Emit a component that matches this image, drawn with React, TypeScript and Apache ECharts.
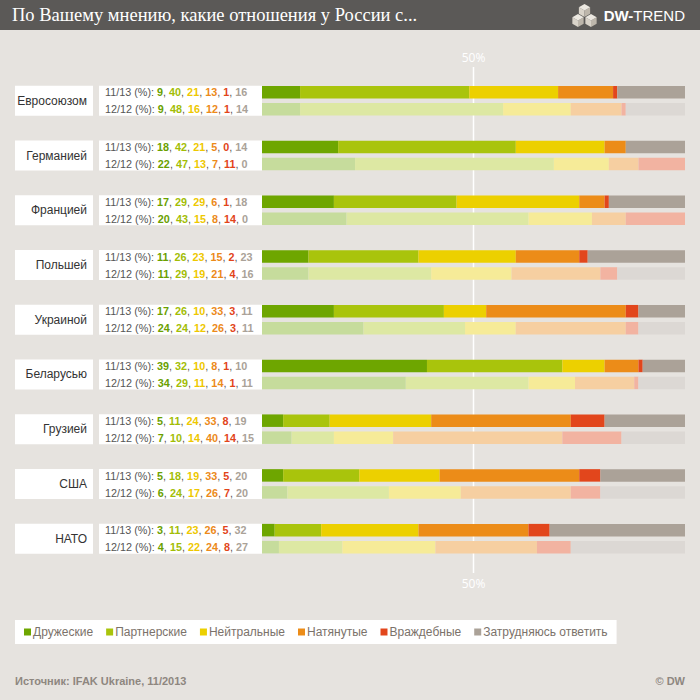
import React, { useEffect, useRef } from "react";
import * as echarts from "echarts";

const countries = ["Евросоюзом", "Германией", "Францией", "Польшей", "Украиной", "Беларусью", "Грузией", "США", "НАТО"];
const answerNames = ["Дружеские", "Партнерские", "Нейтральные", "Натянутые", "Враждебные", "Затрудняюсь ответить"];
const periods = ["11/13", "12/12"];

// Survey 11/2013
const nov13Friendly = [9, 18, 17, 11, 17, 39, 5, 5, 3];
const nov13Partner = [40, 42, 29, 26, 26, 32, 11, 18, 11];
const nov13Neutral = [21, 21, 29, 23, 10, 10, 24, 19, 23];
const nov13Tense = [13, 5, 6, 15, 33, 8, 33, 33, 26];
const nov13Hostile = [1, 0, 1, 2, 3, 1, 8, 5, 5];
const nov13Unsure = [16, 14, 18, 23, 11, 10, 19, 20, 32];

// Survey 12/2012
const dec12Friendly = [9, 22, 20, 11, 24, 34, 7, 6, 4];
const dec12Partner = [48, 47, 43, 29, 24, 29, 10, 24, 15];
const dec12Neutral = [16, 13, 15, 19, 12, 11, 14, 17, 22];
const dec12Tense = [12, 7, 8, 21, 26, 14, 40, 26, 24];
const dec12Hostile = [1, 11, 14, 4, 3, 1, 14, 7, 8];
const dec12Unsure = [14, 0, 0, 16, 11, 11, 15, 20, 27];

const surveys = [
  [nov13Friendly, nov13Partner, nov13Neutral, nov13Tense, nov13Hostile, nov13Unsure],
  [dec12Friendly, dec12Partner, dec12Neutral, dec12Tense, dec12Hostile, dec12Unsure],
];

const darkColors = ["#6ea600", "#a9c40c", "#ecd000", "#ec8c18", "#e2461c", "#aba298"];
const lightColors = ["#c6dc9c", "#dde8a3", "#f6eb98", "#f6cfa1", "#f2b3a1", "#dcd8d4"];
const textColors = ["#6aa000", "#a2bd06", "#eec800", "#ec8a1a", "#e2441a", "#aaa298"];

const BG = "#e6e3df";
const FONT = "'Liberation Sans', Arial, sans-serif";
const BAR_W = 12.5;
const BAR_GAP = 4.5;

function cube(cx: number, cy: number, s: number) {
  const w = s * 0.87;
  return [
    { type: "polygon", shape: { points: [[cx - w, cy - s / 2], [cx, cy], [cx, cy + s], [cx - w, cy + s / 2]] }, style: { fill: "#d9d3c9" } },
    { type: "polygon", shape: { points: [[cx, cy], [cx + w, cy - s / 2], [cx + w, cy + s / 2], [cx, cy + s]] }, style: { fill: "#bdb6ab" } },
    { type: "polygon", shape: { points: [[cx, cy - s], [cx + w, cy - s / 2], [cx, cy], [cx - w, cy - s / 2]] }, style: { fill: "#ece8e1" } },
  ];
}

export default function App() {
  const ref = useRef<HTMLDivElement>(null);
  useEffect(() => {
    if (!ref.current) return;
    const chart = echarts.init(ref.current, null, { renderer: "svg" });
    const series: any[] = [];
    surveys.forEach((survey, p) => {
      survey.forEach((vals, k) => {
        series.push({
          type: "bar",
          name: p === 0 ? answerNames[k] : answerNames[k] + " " + periods[p],
          stack: periods[p],
          data: vals,
          barWidth: BAR_W,
          barGap: (BAR_GAP / BAR_W) * 100 + "%",
          itemStyle: { color: p === 0 ? darkColors[k] : lightColors[k] },
          silent: true,
          z: 2,
        });
      });
    });
    chart.setOption({
      animation: false,
      backgroundColor: BG,
      grid: { left: 262, right: 15, top: 73.4, bottom: 134, containLabel: false },
      xAxis: { type: "value", min: 0, max: 100, show: false },
      yAxis: { type: "category", data: countries, inverse: true, show: false },
      legend: {
        data: answerNames.map((n, k) => ({ name: n, itemStyle: { color: darkColors[k] } })),
        icon: "rect",
        itemWidth: 7,
        itemHeight: 7,
        itemGap: 13,
        left: 15,
        top: 620,
        backgroundColor: "#fff",
        padding: [6, 9, 6, 9],
        selectedMode: false,
        textStyle: { color: "#7b726a", fontSize: 12, fontFamily: FONT, padding: [0, 0, 0, -3] },
      },
      series,
    });

    const x50 = chart.convertToPixel({ xAxisIndex: 0 }, 50) as number;
    const half = (BAR_W + BAR_GAP) / 2;
    const g: any[] = [];
    g.push({ type: "rect", shape: { x: 0, y: 0, width: 700, height: 30 }, style: { fill: "#5b5957" }, z: 10 });
    g.push({
      type: "text", x: 12, y: 15, z: 11,
      style: { text: "По Вашему мнению, какие отношения у России с...", fill: "#fff", font: "18.5px 'Liberation Serif', serif", verticalAlign: "middle" },
    });
    [...cube(578, 20.5, 6.5), ...cube(591, 20.5, 6.5), ...cube(584.5, 10.5, 6.5)].forEach((c) => g.push({ ...c, z: 11 }));
    g.push({
      type: "text", x: 685, y: 15, z: 11,
      style: {
        text: "{b|DW-}{r|TREND}", align: "right", verticalAlign: "middle",
        rich: {
          b: { fill: "#fff", fontSize: 15, fontWeight: "bold", fontFamily: FONT },
          r: { fill: "#fff", fontSize: 15, fontFamily: FONT },
        },
      },
    });
    g.push({ type: "line", z: 0, shape: { x1: x50, y1: 67, x2: x50, y2: 573 }, style: { stroke: "#fff", lineWidth: 1.5 } });
    g.push({ type: "text", x: x50, y: 57, z: 1, style: { text: "50%", fill: "#fff", font: "12px 'Open Sans', sans-serif", align: "center", verticalAlign: "middle" } });
    g.push({ type: "text", x: x50, y: 583, z: 1, style: { text: "50%", fill: "#fff", font: "12px 'Open Sans', sans-serif", align: "center", verticalAlign: "middle" } });

    const FS = 11.5;
    const rich: any = {
      l: { fill: "#555", fontSize: FS, fontFamily: FONT },
      s: { fill: "#555", fontSize: FS, fontFamily: FONT },
    };
    textColors.forEach((c, k) => {
      rich["c" + k] = { fill: c, fontSize: FS, fontFamily: FONT, fontWeight: "bold" };
    });

    countries.forEach((name, i) => {
      const cy = chart.convertToPixel({ yAxisIndex: 0 }, name) as number;
      g.push({ type: "rect", z: 5, shape: { x: 15, y: cy - 15, width: 78, height: 30 }, style: { fill: "#fff" } });
      g.push({ type: "text", z: 6, x: 87, y: cy, style: { text: name, fill: "#333", font: "12px " + FONT, align: "right", verticalAlign: "middle" } });
      g.push({ type: "rect", z: 5, shape: { x: 99, y: cy - 15, width: 163, height: 30 }, style: { fill: "#fff" } });
      surveys.forEach((survey, p) => {
        const parts = survey.map((vals, k) => `{c${k}|${vals[i]}}`).join("{s|, }");
        g.push({
          type: "text", z: 6, x: 105, y: cy + (p === 0 ? -half : half), scaleX: 0.94,
          style: { text: `{l|${periods[p]} (%): }` + parts, rich, verticalAlign: "middle", font: FS + "px " + FONT },
        });
      });
    });

    g.push({ type: "text", x: 15, y: 681, z: 6, style: { text: "Источник: IFAK Ukraine, 11/2013", fill: "#8e877f", font: "bold 11px " + FONT, verticalAlign: "middle" } });
    g.push({ type: "text", x: 685, y: 681, z: 6, style: { text: "© DW", fill: "#8e877f", font: "bold 11px " + FONT, align: "right", verticalAlign: "middle" } });

    chart.setOption({ graphic: g });
    return () => chart.dispose();
  }, []);
  return <div ref={ref} style={{ position: "fixed", left: 0, top: 0, width: 700, height: 700 }} />;
}
